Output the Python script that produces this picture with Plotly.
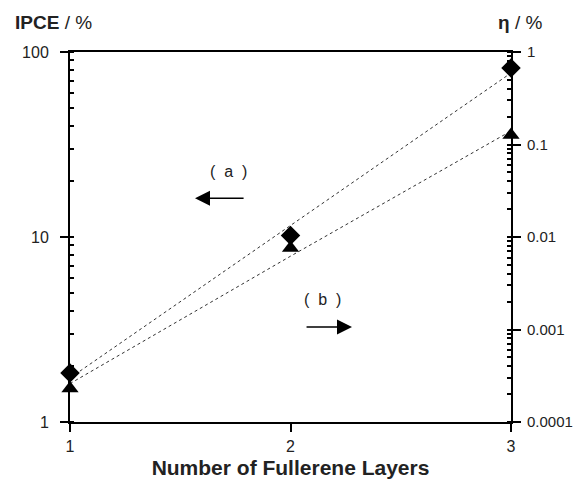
import math
import plotly.graph_objects as go

layers = [1, 2, 3]
ipce_a = [1.84, 10.2, 82]          # (a) IPCE / %, left axis
eta_b = [0.00023, 0.0076, 0.127]   # (b) eta / %, right axis
fit_a = [1.73, 11.5, 77]           # dashed trend line (a)
fit_b = [0.00026, 0.0062, 0.14]    # dashed trend line (b)

left_ticks = [1, 10, 100]
right_ticks = [0.0001, 0.001, 0.01, 0.1, 1]
right_labels = ["0.0001", "0.001", "0.01", "0.1", "1"]

FONT = "Liberation Sans, Arial, sans-serif"
TXT = "#222"

fig = go.Figure()
fig.add_trace(go.Scatter(x=layers, y=fit_a, mode="lines",
                         line=dict(color="#333333", width=1, dash="3px,3px"),
                         showlegend=False, hoverinfo="skip"))
fig.add_trace(go.Scatter(x=layers, y=fit_b, mode="lines", yaxis="y2",
                         line=dict(color="#333333", width=1, dash="3px,3px"),
                         showlegend=False, hoverinfo="skip"))
fig.add_trace(go.Scatter(x=layers, y=ipce_a, mode="markers",
                         marker=dict(symbol="diamond", size=15, color="black"),
                         cliponaxis=False, showlegend=False))
fig.add_trace(go.Scatter(x=layers, y=eta_b, mode="markers", yaxis="y2",
                         marker=dict(symbol="triangle-up", size=15, color="black"),
                         cliponaxis=False, showlegend=False))

axis_common = dict(showgrid=False, zeroline=False, showline=True,
                   linecolor="black", linewidth=2, ticks="outside",
                   ticklen=8, tickwidth=1.5, tickcolor="black",
                   automargin=False)

fig.update_layout(
    width=578, height=485,
    margin=dict(l=70, r=67, t=52, b=63),
    plot_bgcolor="white", paper_bgcolor="white",
    xaxis=dict(range=[1, 3], tickvals=layers, ticktext=["1", "2", "3"],
               mirror=True, ticklabelstandoff=1,
               tickfont=dict(family=FONT, size=16, color=TXT),
               title=dict(text="<b>Number of Fullerene Layers</b>",
                          font=dict(family=FONT, size=21, color=TXT),
                          standoff=6),
               **axis_common),
    yaxis=dict(type="log", range=[0, 2], tickvals=left_ticks,
               ticktext=["1", "10", "100"], ticklabelstandoff=8,
               tickfont=dict(family=FONT, size=16, color=TXT),
               minor=dict(ticks="inside", ticklen=4, tickcolor="black",
                          dtick="D1", showgrid=False),
               **axis_common),
    yaxis2=dict(type="log", range=[-4, 0], overlaying="y", side="right",
                tickvals=right_ticks, ticktext=right_labels,
                ticklabelstandoff=3,
                tickfont=dict(family=FONT, size=15, color=TXT),
                minor=dict(ticks="inside", ticklen=4, tickcolor="black",
                           dtick="D1", showgrid=False),
                **axis_common),
)

L = math.log10  # annotation positions on log axes are given in log10 units
annotations = [
    dict(text="<b>IPCE</b> / %", xref="paper", yref="paper", x=-0.13, y=1.045,
         xanchor="left", yanchor="bottom", showarrow=False,
         font=dict(family=FONT, size=19, color=TXT)),
    dict(text="<b>η</b> / %", xref="paper", yref="paper", x=0.965, y=1.045,
         xanchor="left", yanchor="bottom", showarrow=False,
         font=dict(family=FONT, size=19, color=TXT)),
    dict(text="(&nbsp;&nbsp;a&nbsp;&nbsp;)", x=1.717, y=L(22.5), xref="x", yref="y",
         showarrow=False, font=dict(family=FONT, size=16, color=TXT)),
    dict(text="(&nbsp;&nbsp;b&nbsp;&nbsp;)", x=2.147, y=L(4.57), xref="x", yref="y",
         showarrow=False, font=dict(family=FONT, size=16, color=TXT)),
    dict(text="", x=1.567, y=L(16.2), xref="x", yref="y", ax=1.794, ay=L(16.2),
         axref="x", ayref="y", showarrow=True, arrowhead=2, arrowsize=2,
         arrowwidth=1.5, arrowcolor="black"),
    dict(text="", x=2.279, y=L(3.26), xref="x", yref="y", ax=2.066, ay=L(3.26),
         axref="x", ayref="y", showarrow=True, arrowhead=2, arrowsize=2,
         arrowwidth=1.5, arrowcolor="black"),
]
fig.update_layout(annotations=annotations)

html = fig.to_html(include_plotlyjs=True, full_html=True,
                   config={"displayModeBar": False})
html = html.replace("<body>", '<body style="margin:0">', 1)
with open("out.html", "w", encoding="utf-8") as f:
    f.write(html)
